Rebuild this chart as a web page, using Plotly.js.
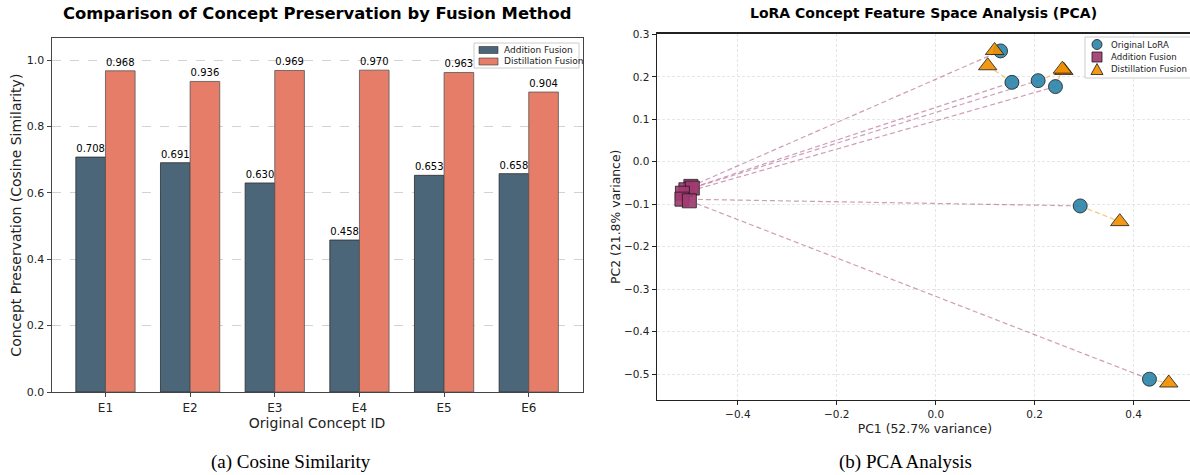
<!DOCTYPE html>
<html>
<head>
<meta charset="utf-8">
<script src="https://cdn.plot.ly/plotly-3.0.1.min.js"></script>
<style>
html,body{margin:0;padding:0;overflow:hidden;background:#fff;}
#chart{width:1196px;height:475px;}
</style>
</head>
<body>
<div id="chart"></div>
<script>
// ---- Data: (a) cosine similarity ----
const categories = ['E1','E2','E3','E4','E5','E6'];
const additionScores = [0.708, 0.691, 0.630, 0.458, 0.653, 0.658];
const distillationScores = [0.968, 0.936, 0.969, 0.970, 0.963, 0.904];

// ---- Data: (b) PCA ----
const originalPC1 = [0.131, 0.154, 0.207, 0.242, 0.292, 0.432];
const originalPC2 = [0.261, 0.187, 0.191, 0.177, -0.104, -0.512];
const additionPC1 = [-0.495, -0.505, -0.492, -0.512, -0.513, -0.498];
const additionPC2 = [-0.058, -0.066, -0.062, -0.074, -0.088, -0.092];
const distillationPC1 = [0.119, 0.105, 0.259, 0.256, 0.372, 0.471];
const distillationPC2 = [0.262, 0.226, 0.215, 0.218, -0.141, -0.521];

const seriesNamesA = ['Addition Fusion', 'Distillation Fusion'];
const seriesNamesB = ['Original LoRA', 'Addition Fusion', 'Distillation Fusion'];

const W = 1196, H = 475;
const px = v => v / W;
const py = v => (H - v) / H;

const FONT = 'DejaVu Sans, sans-serif';
const C_ADD = '#4c6679', C_DIST = '#e67d69';
const C_ORIG = 'rgba(46,134,171,0.92)', C_SQ = 'rgba(162,59,114,0.92)', C_TRI = 'rgba(241,143,1,0.92)';

function segs(ax, ay, bx, by) {
  const xs = [], ys = [];
  for (let i = 0; i < ax.length; i++) {
    xs.push(ax[i], bx[i], null);
    ys.push(ay[i], by[i], null);
  }
  return {xs, ys};
}
const addLines = segs(additionPC1, additionPC2, originalPC1, originalPC2);
const distLines = segs(originalPC1, originalPC2, distillationPC1, distillationPC2);

const traces = [
  {
    type: 'bar', x: categories, y: additionScores, name: seriesNamesA[0],
    xaxis: 'x', yaxis: 'y', showlegend: false,
    marker: {color: C_ADD, line: {color: '#2b2b2b', width: 0.8}},
    text: additionScores.map(v => v.toFixed(3)), textposition: 'outside',
    textfont: {family: FONT, size: 10, color: '#000'}, cliponaxis: false
  },
  {
    type: 'bar', x: categories, y: distillationScores, name: seriesNamesA[1],
    xaxis: 'x', yaxis: 'y', showlegend: false,
    marker: {color: C_DIST, line: {color: '#555', width: 0.8}},
    text: distillationScores.map(v => v.toFixed(3)), textposition: 'outside',
    textfont: {family: FONT, size: 10, color: '#000'}, cliponaxis: false
  },
  {
    type: 'scatter', mode: 'lines', x: addLines.xs, y: addLines.ys,
    xaxis: 'x2', yaxis: 'y2', showlegend: false, hoverinfo: 'skip',
    line: {color: 'rgba(162,59,114,0.5)', width: 1.2, dash: '5px,3px'}
  },
  {
    type: 'scatter', mode: 'lines', x: distLines.xs, y: distLines.ys,
    xaxis: 'x2', yaxis: 'y2', showlegend: false, hoverinfo: 'skip',
    line: {color: 'rgba(241,143,1,0.5)', width: 1.2, dash: '5px,3px'}
  },
  {
    type: 'scatter', mode: 'markers', x: originalPC1, y: originalPC2, name: seriesNamesB[0],
    xaxis: 'x2', yaxis: 'y2', showlegend: false,
    marker: {symbol: 'circle', size: 14, color: C_ORIG, line: {color: '#1a1a1a', width: 0.8}}
  },
  {
    type: 'scatter', mode: 'markers', x: additionPC1, y: additionPC2, name: seriesNamesB[1],
    xaxis: 'x2', yaxis: 'y2', showlegend: false,
    marker: {symbol: 'square', size: 14, color: C_SQ, line: {color: '#1a1a1a', width: 0.8}}
  },
  {
    type: 'scatter', mode: 'markers', x: distillationPC1, y: distillationPC2, name: seriesNamesB[2],
    xaxis: 'x2', yaxis: 'y2', showlegend: false,
    marker: {symbol: 'triangle-up', size: 16, color: C_TRI, line: {color: '#1a1a1a', width: 0.8}}
  }
];

// ---- compact legends (matplotlib style) built from shapes + annotations ----
const shapes = [];
const annotations = [];
function rectPx(x0, y0, x1, y1, fill, line, lw) {
  shapes.push({type: 'rect', xref: 'paper', yref: 'paper', x0: px(x0), x1: px(x1), y0: py(y1), y1: py(y0),
    fillcolor: fill, line: {color: line, width: lw}, layer: 'above'});
}
function labelPx(x, y, text, size) {
  annotations.push({text: text, xref: 'paper', yref: 'paper', x: px(x), y: py(y), xanchor: 'left', yanchor: 'middle',
    showarrow: false, font: {family: FONT, size: size, color: '#222'}});
}
// legend (a)
rectPx(474, 43, 579, 68, 'rgba(255,255,255,0.9)', '#cccccc', 1);
[C_ADD, C_DIST].forEach((c, i) => {
  const yc = 50 + i * 11.5;
  rectPx(479, yc - 3.5, 498, yc + 3.5, c, '#333', 0.6);
  labelPx(502, yc, seriesNamesA[i], 9);
});
// legend (b)
rectPx(1085, 37, 1200, 78, 'rgba(255,255,255,0.9)', '#cccccc', 1);
{
  const xc = 1097;
  let yc = 44.5;
  shapes.push({type: 'circle', xref: 'paper', yref: 'paper', x0: px(xc - 5), x1: px(xc + 5), y0: py(yc + 5), y1: py(yc - 5),
    fillcolor: C_ORIG, line: {color: '#1a1a1a', width: 0.8}, layer: 'above'});
  labelPx(1109, yc, seriesNamesB[0], 8.6);
  yc = 57;
  rectPx(xc - 5, yc - 5, xc + 5, yc + 5, C_SQ, '#1a1a1a', 0.8);
  labelPx(1109, yc, seriesNamesB[1], 8.6);
  yc = 69.5;
  shapes.push({type: 'path', xref: 'paper', yref: 'paper',
    path: `M ${px(xc)} ${py(yc - 6)} L ${px(xc + 6)} ${py(yc + 5)} L ${px(xc - 6)} ${py(yc + 5)} Z`,
    fillcolor: C_TRI, line: {color: '#1a1a1a', width: 0.8}, layer: 'above'});
  labelPx(1109, yc, seriesNamesB[2], 8.6);
}

annotations.push(
  {text: '<b>Comparison of Concept Preservation by Fusion Method</b>', xref: 'paper', yref: 'paper',
   x: px(317), y: py(13), xanchor: 'center', yanchor: 'middle', showarrow: false,
   font: {family: FONT, size: 16.4, color: '#000'}},
  {text: '<b>LoRA Concept Feature Space Analysis (PCA)</b>', xref: 'paper', yref: 'paper',
   x: px(923), y: py(13), xanchor: 'center', yanchor: 'middle', showarrow: false,
   font: {family: FONT, size: 14, color: '#000'}},
  {text: '(a) Cosine Similarity', xref: 'paper', yref: 'paper',
   x: px(291), y: py(462), xanchor: 'center', yanchor: 'middle', showarrow: false,
   font: {family: 'Liberation Serif, serif', size: 19, color: '#000'}},
  {text: '(b) PCA Analysis', xref: 'paper', yref: 'paper',
   x: px(905), y: py(462), xanchor: 'center', yanchor: 'middle', showarrow: false,
   font: {family: 'Liberation Serif, serif', size: 19, color: '#000'}}
);

const layout = {
  width: W, height: H,
  margin: {l: 0, r: 0, t: 0, b: 0},
  paper_bgcolor: '#fff', plot_bgcolor: '#fff',
  font: {family: FONT, color: '#000'},
  showlegend: false,
  barmode: 'group', bargap: 0.3, bargroupgap: 0,
  xaxis: {
    domain: [px(51.7), px(582.5)], anchor: 'y',
    range: [-0.635, 5.635], type: 'category',
    showline: true, mirror: true, linecolor: '#444', linewidth: 1.2,
    ticks: 'outside', ticklen: 4, tickcolor: '#444',
    tickfont: {family: FONT, size: 12, color: '#222'},
    showgrid: false, zeroline: false,
    title: {text: 'Original Concept ID', font: {family: FONT, size: 14, color: '#222'}, standoff: 3}
  },
  yaxis: {
    domain: [py(392), py(38.3)], anchor: 'x',
    range: [0, 1.066], dtick: 0.2, tick0: 0, tickformat: '.1f',
    showline: true, mirror: true, linecolor: '#444', linewidth: 1.2,
    ticks: 'outside', ticklen: 4, tickcolor: '#444',
    tickfont: {family: FONT, size: 11, color: '#222'},
    showgrid: true, gridcolor: '#c8c8c8', griddash: 'dash', gridwidth: 0.8,
    zeroline: false,
    title: {text: 'Concept Preservation (Cosine Similarity)', font: {family: FONT, size: 14, color: '#222'}, standoff: 1}
  },
  xaxis2: {
    domain: [px(656.7), px(1193)], anchor: 'y2',
    range: [-0.564, 0.52], dtick: 0.2, tick0: 0, tickformat: '.1f',
    showline: true, mirror: true, linecolor: '#222', linewidth: 1.2,
    ticks: 'outside', ticklen: 4, tickcolor: '#222',
    tickfont: {family: FONT, size: 10.5, color: '#222'},
    showgrid: true, gridcolor: '#e0e0e0', griddash: '3px,2px', gridwidth: 0.8,
    zeroline: false,
    title: {text: 'PC1 (52.7% variance)', font: {family: FONT, size: 12.4, color: '#222'}, standoff: 5}
  },
  yaxis2: {
    domain: [py(400), py(33.5)], anchor: 'x2',
    range: [-0.561, 0.302], dtick: 0.1, tick0: 0, tickformat: '.1f',
    showline: true, mirror: true, linecolor: '#222', linewidth: 1.2,
    ticks: 'outside', ticklen: 4, tickcolor: '#222',
    tickfont: {family: FONT, size: 10.5, color: '#222'},
    showgrid: true, gridcolor: '#e0e0e0', griddash: '3px,2px', gridwidth: 0.8,
    zeroline: false,
    title: {text: 'PC2 (21.8% variance)', font: {family: FONT, size: 12.4, color: '#222'}, standoff: 0}
  },
  shapes: shapes,
  annotations: annotations
};

Plotly.newPlot('chart', traces, layout, {displayModeBar: false, staticPlot: true});
</script>
</body>
</html>
